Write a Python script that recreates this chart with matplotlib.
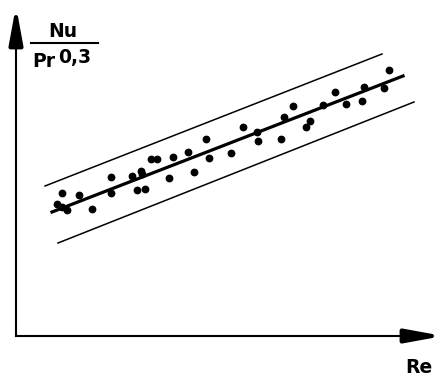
import numpy as np
import matplotlib.pyplot as plt

# Re / (Nu / Pr^0.3) measurement points (arbitrary units)
re_pts = [45.7, 40.7, 46, 50.7, 63, 75.7, 95, 95, 116.3, 125, 125.7, 121.3,
          129, 135, 141, 153.3, 157.3, 171.5, 178, 190, 193.3, 215, 226.7,
          241.7, 241.3, 264.7, 268, 277.3, 290, 294, 306.7, 319, 330, 345.7,
          348.3, 368, 373]
nu_pts = [142.7, 132, 129, 126, 141, 127, 159.3, 142.7, 160.3, 165, 161.7, 146,
          146.7, 177, 177, 157.7, 179.3, 184.3, 163.7, 197, 178.3, 182.7, 209.3,
          195, 204.3, 197, 219.3, 230, 209.3, 215.3, 231, 244.5, 231.7, 235,
          248.7, 247.7, 266]

# fit line and scatter band (start, end)
fit_x = [36, 387]
fit_y = [124, 260]
upper_x = [29, 366]
upper_y = [150, 282]
lower_x = [42, 398]
lower_y = [93, 234]

fig = plt.figure(figsize=(4.46, 3.77), dpi=100)
ax = fig.add_axes([0, 0, 1, 1])
ax.set_xlim(-16, 430)
ax.set_ylim(-41, 336)
ax.axis('off')

# axes with arrows
ax.plot([0, 0], [0, 310], color='black', lw=1.5)
ax.plot([0, 405], [0, 0], color='black', lw=1.5)
arrow = dict(arrowstyle='-|>,head_length=1.2,head_width=0.22',
             color='black', lw=3, mutation_scale=18)
ax.annotate('', xy=(0, 333), xytext=(0, 303), arrowprops=arrow)
ax.annotate('', xy=(430, 0), xytext=(400, 0), arrowprops=arrow)

ax.plot(upper_x, upper_y, color='black', lw=1.1)
ax.plot(lower_x, lower_y, color='black', lw=1.1)
ax.plot(fit_x, fit_y, color='black', lw=2.3)
ax.plot(re_pts, nu_pts, 'o', color='black', ms=4.6)

# labels
font = dict(fontsize=13.5, fontweight='bold', family='DejaVu Sans')
ax.text(32, 299, 'Nu', va='baseline', ha='left', **font)
ax.plot([15, 82], [293, 293], color='black', lw=1.5)
ax.text(16, 269, 'Pr', va='baseline', ha='left', **font)
ax.text(42, 273, '0,3', va='baseline', ha='left', **font)
ax.text(389, -37, 'Re', va='baseline', ha='left', **font)

fig.savefig('out.png', dpi=100)
